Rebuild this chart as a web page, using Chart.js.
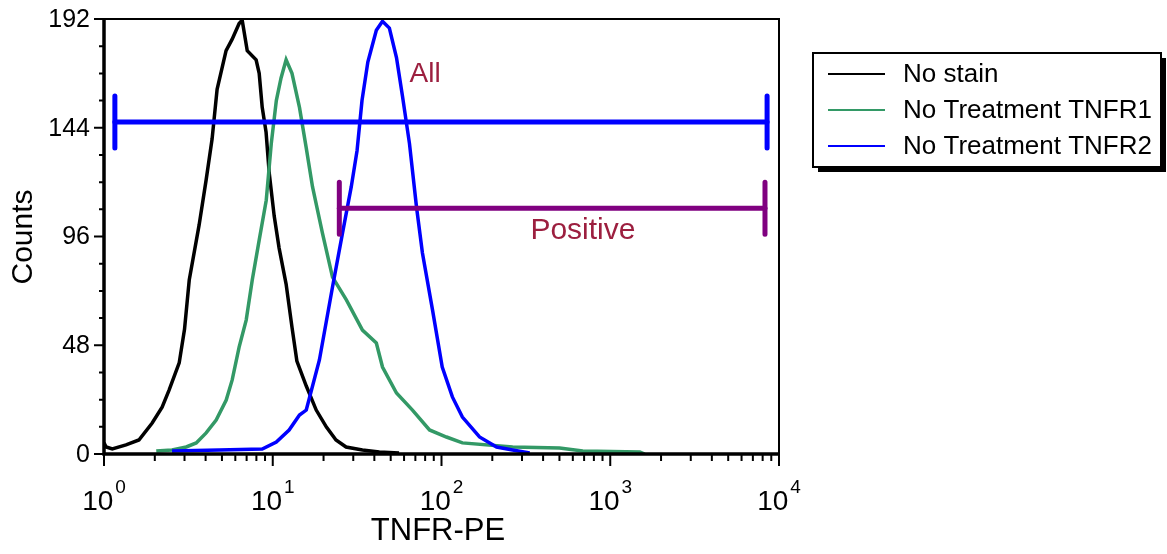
<!DOCTYPE html>
<html>
<head>
<meta charset="utf-8">
<title>TNFR-PE histogram</title>
<script src="https://cdn.jsdelivr.net/npm/chart.js@4.4.1/dist/chart.umd.min.js"></script>
<style>
    html, body { margin: 0; padding: 0; background: #ffffff; }
    #wrap { width: 1167px; height: 554px; position: relative; }
</style>
</head>
<body>
<div id="wrap"><canvas id="histChart" width="1167" height="554"></canvas></div>
<script>
// Histogram data (TNFR-PE intensity vs counts)
const noStainX = [1.0, 1.03, 1.12, 1.35, 1.61, 1.93, 2.21, 2.43, 2.79, 3.0, 3.2, 3.66, 4.03, 4.37, 4.68, 5.29, 5.74, 6.32, 6.59, 7.06, 7.97, 8.31, 8.66, 9.13, 9.53, 10.2, 10.9, 12.0, 13.0, 13.9, 15.8, 18.1, 20.8, 23.7, 27.2, 34.0, 42.8, 56];
const noStainY = [4.9, 3.1, 2.2, 4.0, 6.2, 13.7, 20.7, 28.2, 40.2, 55, 76.8, 101, 121, 139, 161, 178, 183, 190, 191.5, 178, 174, 168, 153, 142, 124, 105, 91, 75, 56, 41, 30, 19.4, 11.9, 6.2, 3.1, 1.8, 0.9, 0.4];

const tnfr1X = [2.04, 2.53, 3.07, 3.52, 4.03, 4.62, 5.3, 5.75, 6.32, 6.96, 7.56, 8.31, 9.15, 9.8, 10.5, 11.2, 12.0, 13.0, 14.4, 15.8, 17.2, 19.7, 22.6, 27.3, 34.0, 41.1, 44.7, 54.1, 67.3, 84.9, 107, 133, 264, 501, 687, 1497, 1600];
const tnfr1Y = [1.3, 1.8, 3.1, 4.9, 9.3, 15.0, 23.8, 32.7, 47.2, 59.1, 76.8, 94.4, 112, 137, 156, 166, 174, 168, 153, 135, 118, 97.5, 78.1, 68.0, 54.7, 49.0, 38.4, 26.9, 19.4, 10.6, 7.5, 4.9, 3.1, 2.6, 1.3, 0.9, 0];

const tnfr2X = [2.53, 4.81, 8.66, 10.5, 12.5, 14.4, 15.8, 18.9, 22.6, 25.9, 29.2, 31.6, 33.8, 36.6, 41.1, 44.7, 49.1, 54.1, 58.7, 64.6, 71.1, 77.1, 88.5, 101, 116, 133, 168, 212, 264, 333];
const tnfr2Y = [1.3, 1.8, 2.2, 5.3, 10.6, 17.2, 19.4, 41.5, 73.7, 97.5, 118, 134, 156, 173, 187, 191, 188, 175, 158, 137, 109, 88.7, 63.5, 38.4, 25.2, 16.3, 7.5, 3.1, 1.8, 0.4];

const seriesNames = ['No stain', 'No Treatment TNFR1', 'No Treatment TNFR2'];
const seriesColors = ['#000000', '#339966', '#0000ff'];

// Axis ticks
const yTicks = [0, 48, 96, 144, 192];
const yMinorStep = 12;
const xDecades = [0, 1, 2, 3, 4];

// Gates
const gateNames = ['All', 'Positive'];
const gateFrom = [1.16, 24.8];
const gateTo = [8500, 8260];
const gateLevel = [146.5, 108.5];
const gateLabelX = [79.9, 689];
const gateLabelY = [167.7, 98.4];
const gateColors = ['#0000ff', '#800080'];

function toPoints(xs, ys) {
    return xs.map((x, i) => ({ x: x, y: ys[i] }));
}

const FONT = '"Liberation Sans", Arial, sans-serif';

// Draws axes, gates and the boxed legend in the flow-cytometry style
const flowDecor = {
    id: 'flowDecor',
    afterDatasetsDraw(chart) {
        const ctx = chart.ctx;
        const xs = chart.scales.x;
        const ys = chart.scales.y;
        const a = chart.chartArea;

        ctx.save();

        // gates
        gateNames.forEach((name, i) => {
            const x0 = xs.getPixelForValue(gateFrom[i]);
            const x1 = xs.getPixelForValue(gateTo[i]);
            const yy = ys.getPixelForValue(gateLevel[i]);
            ctx.strokeStyle = gateColors[i];
            ctx.lineCap = 'round';
            ctx.lineWidth = 5;
            ctx.beginPath();
            ctx.moveTo(x0, yy);
            ctx.lineTo(x1, yy);
            ctx.stroke();
            ctx.beginPath();
            ctx.moveTo(x0, yy - 26);
            ctx.lineTo(x0, yy + 26);
            ctx.moveTo(x1, yy - 26);
            ctx.lineTo(x1, yy + 26);
            ctx.stroke();

            ctx.fillStyle = '#9c1f3f';
            ctx.font = (i === 0 ? '28px ' : '30px ') + FONT;
            ctx.textAlign = 'center';
            ctx.textBaseline = 'middle';
            ctx.fillText(name, xs.getPixelForValue(gateLabelX[i]), ys.getPixelForValue(gateLabelY[i]));
        });

        // frame
        ctx.lineCap = 'butt';
        ctx.strokeStyle = '#000000';
        ctx.lineWidth = 2;
        ctx.beginPath();
        ctx.moveTo(a.left, a.top);
        ctx.lineTo(a.right, a.top);
        ctx.lineTo(a.right, a.bottom);
        ctx.stroke();
        ctx.lineWidth = 3.5;
        ctx.beginPath();
        ctx.moveTo(a.left, a.top - 1);
        ctx.lineTo(a.left, a.bottom);
        ctx.lineTo(a.right, a.bottom);
        ctx.stroke();

        // y ticks
        ctx.lineWidth = 2;
        ctx.beginPath();
        for (let v = 0; v <= 192; v += yMinorStep) {
            const py = ys.getPixelForValue(v);
            const len = yTicks.includes(v) ? 10 : 5;
            ctx.moveTo(a.left, py);
            ctx.lineTo(a.left - len, py);
        }
        ctx.stroke();
        ctx.fillStyle = '#000000';
        ctx.font = '25px ' + FONT;
        ctx.textAlign = 'right';
        ctx.textBaseline = 'middle';
        yTicks.forEach(v => {
            ctx.fillText(String(v), a.left - 14, ys.getPixelForValue(v) + 1);
        });

        // x ticks (log decades with minor ticks)
        ctx.beginPath();
        xDecades.forEach((d, i) => {
            const base = Math.pow(10, d);
            const px = xs.getPixelForValue(base);
            ctx.moveTo(px, a.bottom);
            ctx.lineTo(px, a.bottom + 12);
            if (i < xDecades.length - 1) {
                for (let m = 2; m <= 9; m++) {
                    const mx = xs.getPixelForValue(base * m);
                    ctx.moveTo(mx, a.bottom);
                    ctx.lineTo(mx, a.bottom + 7);
                }
            }
        });
        ctx.stroke();

        xDecades.forEach(d => {
            const px = xs.getPixelForValue(Math.pow(10, d));
            ctx.font = '28px ' + FONT;
            const w1 = ctx.measureText('10').width;
            ctx.font = '19px ' + FONT;
            const w2 = ctx.measureText(String(d)).width;
            const start = px - (w1 + w2 + 2) / 2;
            ctx.textAlign = 'left';
            ctx.textBaseline = 'alphabetic';
            ctx.font = '28px ' + FONT;
            ctx.fillText('10', start, a.bottom + 56);
            ctx.font = '19px ' + FONT;
            ctx.fillText(String(d), start + w1 + 2, a.bottom + 39);
        });

        // axis titles
        ctx.font = '31px ' + FONT;
        ctx.textAlign = 'center';
        ctx.textBaseline = 'middle';
        ctx.fillText('TNFR-PE', 438, 531);
        ctx.save();
        ctx.translate(24, 237);
        ctx.rotate(-Math.PI / 2);
        ctx.font = '30px ' + FONT;
        ctx.fillText('Counts', 0, 0);
        ctx.restore();

        // legend with drop shadow
        const lx = 813, ly = 53, lw = 348, lh = 114;
        ctx.fillStyle = '#000000';
        ctx.fillRect(lx + 5, ly + 5, lw, lh);
        ctx.fillStyle = '#ffffff';
        ctx.fillRect(lx, ly, lw, lh);
        ctx.lineWidth = 2;
        ctx.strokeStyle = '#000000';
        ctx.strokeRect(lx, ly, lw, lh);
        ctx.font = '26px ' + FONT;
        ctx.textAlign = 'left';
        ctx.textBaseline = 'middle';
        seriesNames.forEach((name, i) => {
            const ry = 74 + i * 36;
            ctx.strokeStyle = seriesColors[i];
            ctx.lineWidth = 2;
            ctx.beginPath();
            ctx.moveTo(828, ry);
            ctx.lineTo(885, ry);
            ctx.stroke();
            ctx.fillStyle = '#000000';
            ctx.fillText(name, 903, ry + 1);
        });

        ctx.restore();
    }
};

const seriesData = [
    toPoints(noStainX, noStainY),
    toPoints(tnfr1X, tnfr1Y),
    toPoints(tnfr2X, tnfr2Y)
];

new Chart(document.getElementById('histChart').getContext('2d'), {
    type: 'line',
    data: {
        datasets: seriesNames.map((name, i) => ({
            label: name,
            data: seriesData[i],
            borderColor: seriesColors[i],
            borderWidth: 3.5,
            pointRadius: 0,
            tension: 0,
            fill: false,
            order: 2 - i
        }))
    },
    options: {
        responsive: false,
        animation: false,
        layout: {
            padding: { left: 104, top: 19, right: 388, bottom: 100 }
        },
        plugins: {
            legend: { display: false },
            tooltip: { enabled: false }
        },
        scales: {
            x: { type: 'logarithmic', min: 1, max: 10000, display: false },
            y: { type: 'linear', min: 0, max: 192, display: false }
        }
    },
    plugins: [flowDecor]
});
</script>
</body>
</html>
